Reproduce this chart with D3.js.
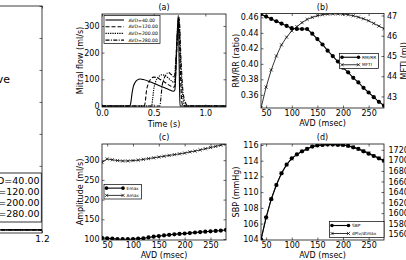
<!DOCTYPE html>
<html>
<head>
<meta charset="utf-8">
<script src="https://cdn.jsdelivr.net/npm/d3@7/dist/d3.min.js"></script>
<style>
body { margin: 0; background: #fff; }
svg { display: block; font-family: "DejaVu Sans", sans-serif; }
</style>
</head>
<body>
<script>
var width = 406, height = 260;
var svg = d3.select("body").append("svg").attr("width", width).attr("height", height);

/** data **/
var avd = [40, 50, 60, 70, 80, 90, 100, 110, 120, 130, 140, 150, 160, 170, 180, 190, 200, 210, 220, 230, 240, 250, 260, 270, 280];

var rmrr = [0.464, 0.461, 0.458, 0.455, 0.452, 0.449, 0.446, 0.445, 0.445, 0.445, 0.439, 0.432, 0.425,
            0.417, 0.410, 0.403, 0.395, 0.389, 0.382, 0.376, 0.369, 0.363, 0.357, 0.351, 0.346];
var mfti = [42.43, 43.46, 44.31, 45.0, 45.55, 45.93, 46.24, 46.45, 46.65, 46.81, 46.91, 46.99, 47.04,
            47.07, 47.08, 47.08, 47.07, 47.04, 46.99, 46.92, 46.84, 46.74, 46.61, 46.48, 46.35];

var emax = [103, 102, 101, 100, 99.5, 99.5, 100, 101, 102, 104, 106, 107.5, 109,
            110.5, 112, 113, 114, 115, 116.5, 117.5, 118.5, 119.5, 120.5, 121.5, 123];
var amax = [294, 303, 301, 299, 298, 298, 299, 300, 302, 304, 306, 308, 310,
            312, 314, 316, 318, 321, 323, 326, 329, 332, 335, 338, 341];

var sbp = [104.0, 106.8, 109.1, 110.9, 112.4, 113.5, 114.3, 114.8, 115.2, 115.5, 115.8, 115.95, 116.0,
           116.05, 116.05, 116.0, 116.0, 115.9, 115.7, 115.5, 115.2, 114.9, 114.6, 114.3, 114.0];
var dpdt = [1549, 1591, 1627, 1654, 1676, 1692, 1703, 1711, 1717, 1722, 1726, 1728, 1729,
            1730, 1730, 1730, 1729, 1727, 1725, 1722, 1718, 1714, 1709, 1704, 1699];

// mitral flow traces, [time (s), flow (ml/s)]
var flow40 = [[0, 0], [0.27, 0], [0.28, 15], [0.29, 45], [0.30, 68], [0.32, 88], [0.34, 97], [0.37, 101],
              [0.40, 99], [0.45, 93], [0.50, 85], [0.55, 77], [0.60, 69], [0.65, 61], [0.69, 55],
              [0.705, 60], [0.715, 130], [0.725, 240], [0.738, 340], [0.745, 200], [0.75, 80], [0.755, 0], [1.2, 0]];
var flow120 = [[0, 0], [0.41, 0], [0.42, 20], [0.43, 55], [0.45, 85], [0.47, 100], [0.50, 108], [0.53, 106],
               [0.57, 98], [0.61, 88], [0.65, 78], [0.69, 70], [0.705, 75], [0.715, 140], [0.73, 260],
               [0.742, 335], [0.755, 180], [0.765, 60], [0.775, 10], [0.785, 0], [1.2, 0]];
var flow200 = [[0, 0], [0.48, 0], [0.49, 25], [0.50, 60], [0.52, 92], [0.55, 110], [0.58, 117], [0.61, 114],
               [0.64, 105], [0.67, 95], [0.70, 88], [0.715, 160], [0.73, 270], [0.745, 330], [0.76, 180],
               [0.775, 60], [0.79, 15], [0.80, 0], [1.2, 0]];
var flow280 = [[0, 0], [0.56, 0], [0.57, 30], [0.58, 70], [0.60, 102], [0.62, 118], [0.645, 125], [0.67, 118],
               [0.70, 108], [0.715, 180], [0.73, 280], [0.747, 325], [0.765, 170], [0.785, 50], [0.81, 10],
               [0.83, 0], [1.2, 0]];

var flowSeries = [flow40, flow120, flow200, flow280];
var flowLabels = ["AVD=40.00", "AVD=120.00", "AVD=200.00", "AVD=280.00"];
var flowDash = [null, "4,2", "1.3,1", "4,1.4,1,1.4"];

var timeTicks = [0.0, 0.5, 1.0];
var flowTicks = [0, 100, 200, 300];
var avdTicks = [50, 100, 150, 200, 250];
var rmrrTicks = [0.36, 0.38, 0.40, 0.42, 0.44, 0.46];
var mftiTicks = [43, 44, 45, 46, 47];
var ampTicks = [100, 150, 200, 250, 300];
var sbpTicks = [104, 106, 108, 110, 112, 114, 116];
var dpdtTicks = [1560, 1580, 1600, 1620, 1640, 1660, 1680, 1700, 1720];

/** helpers **/
var clipId = 0;
function panel(x0, x1, y0, y1) {
    var g = svg.append("g");
    var id = "clip" + (clipId++);
    g.append("clipPath").attr("id", id).append("rect")
        .attr("x", x0).attr("y", y0).attr("width", x1 - x0).attr("height", y1 - y0);
    g.plot = g.append("g").attr("clip-path", "url(#" + id + ")");
    g.box = [x0, x1, y0, y1];
    return g;
}

function styleAxis(a, fs) {
    a.attr("font-family", "DejaVu Sans, sans-serif").attr("font-size", fs || 8);
    a.select(".domain").remove();
    a.selectAll(".tick line").attr("stroke", "#000").attr("stroke-width", 0.6);
    a.selectAll("text").attr("fill", "#000");
}

function axes(g, x, y, xt, yt, opt) {
    opt = opt || {};
    var b = g.box, fs = opt.fs || 8;
    var xf = opt.xfmt || (d => d);
    var yf = opt.yfmt || (d => d);
    styleAxis(g.append("g").attr("transform", "translate(0," + b[3] + ")")
        .call(d3.axisBottom(x).tickValues(xt).tickSizeInner(-2.5).tickSizeOuter(0).tickPadding(opt.xpad || 2.5).tickFormat(xf)), fs);
    styleAxis(g.append("g").attr("transform", "translate(0," + b[2] + ")")
        .call(d3.axisTop(x).tickValues(xt).tickSizeInner(-2.5).tickSizeOuter(0).tickFormat("")), fs);
    styleAxis(g.append("g").attr("transform", "translate(" + b[0] + ",0)")
        .call(d3.axisLeft(y).tickValues(yt).tickSizeInner(-2.5).tickSizeOuter(0).tickPadding(2.5).tickFormat(yf)), fs);
    if (!opt.twin) {
        styleAxis(g.append("g").attr("transform", "translate(" + b[1] + ",0)")
            .call(d3.axisRight(y).tickValues(yt).tickSizeInner(-2.5).tickSizeOuter(0).tickFormat("")), fs);
    }
    g.append("rect").attr("x", b[0]).attr("y", b[2])
        .attr("width", b[1] - b[0]).attr("height", b[3] - b[2])
        .attr("fill", "none").attr("stroke", "#111").attr("stroke-width", 0.8);
}

function twinAxis(g, y2, yt, pad) {
    var b = g.box;
    styleAxis(g.append("g").attr("transform", "translate(" + b[1] + ",0)")
        .call(d3.axisRight(y2).tickValues(yt).tickSizeInner(-2.5).tickSizeOuter(0).tickPadding(pad).tickFormat(d => d)));
}

function title(g, t) {
    var b = g.box;
    g.append("text").attr("x", (b[0] + b[1]) / 2).attr("y", b[2] - 4)
        .attr("text-anchor", "middle").attr("font-size", 8).text(t);
}

function xlabel(g, t, yy) {
    var b = g.box;
    g.append("text").attr("x", (b[0] + b[1]) / 2).attr("y", yy)
        .attr("text-anchor", "middle").attr("font-size", 8).text(t);
}

function ylabel(g, t, xx) {
    var b = g.box;
    g.append("text").attr("transform", "translate(" + xx + "," + (b[2] + b[3]) / 2 + ") rotate(-90)")
        .attr("text-anchor", "middle").attr("dy", "0.35em").attr("font-size", 8).text(t);
}

function marker(sel, type, r) {
    if (type == "o") {
        sel.append("circle").attr("r", r).attr("fill", "#000");
    } else {
        sel.append("path").attr("d", "M" + -r + "," + -r + "L" + r + "," + r + "M" + -r + "," + r + "L" + r + "," + -r)
            .attr("stroke", "#000").attr("stroke-width", 0.7).attr("fill", "none");
    }
}

function series(g, x, y, xs, ys, type, r) {
    var pts = xs.map((d, i) => [x(d), y(ys[i])]);
    g.plot.append("path").attr("d", d3.line()(pts))
        .attr("fill", "none").attr("stroke", "#000").attr("stroke-width", type == "o" ? 1.1 : 0.8);
    g.plot.selectAll(null).data(pts).enter().append("g")
        .attr("transform", d => "translate(" + d + ")")
        .each(function () { marker(d3.select(this), type, r); });
}

function markerLegend(g, bx, by, bw, bh, items) {
    g.append("rect").attr("x", bx).attr("y", by).attr("width", bw).attr("height", bh)
        .attr("fill", "#fff").attr("stroke", "#000").attr("stroke-width", 0.7);
    items.forEach((it, i) => {
        var yy = by + bh * (i + 0.5) / items.length;
        g.append("line").attr("x1", bx + 2.5).attr("x2", bx + 19).attr("y1", yy).attr("y2", yy)
            .attr("stroke", "#000").attr("stroke-width", it.type == "o" ? 1.1 : 0.8);
        [bx + 2.5, bx + 19].forEach(px => {
            marker(g.append("g").attr("transform", "translate(" + px + "," + yy + ")"), it.type, it.type == "o" ? 1.8 : 1.6);
        });
        g.append("text").attr("x", bx + 22.5).attr("y", yy).attr("dy", "0.35em")
            .attr("font-size", 4.3).text(it.label);
    });
}

/** left (cropped) panel **/
{
    var p = panel(-260, 42, 6, 233);
    var x = d3.scaleLinear().domain([0, 1.2]).range([-260, 42]);
    var y = d3.scaleLinear().domain([-5, 350]).range([233, 6]);
    flowSeries.forEach((s, i) => {
        p.plot.append("path").attr("d", d3.line().x(d => x(d[0])).y(d => y(d[1])).curve(d3.curveMonotoneX)(s))
            .attr("fill", "none").attr("stroke", "#000").attr("stroke-width", 1.3)
            .attr("stroke-dasharray", flowDash[i]);
    });
    // its left-hand tick labels sit outside the crop, so only the marks are kept
    axes(p, x, y, [1.2], [0, 50, 100, 150, 200, 250, 300, 350], { fs: 9, xfmt: d3.format(".1f"), yfmt: () => "" });
    p.append("text").attr("x", 10).attr("y", 83).attr("text-anchor", "end").attr("font-size", 11).text("E wave");
    p.append("rect").attr("x", -100).attr("y", 173).attr("width", 141.3).attr("height", 49)
        .attr("fill", "#fff").attr("stroke", "#000").attr("stroke-width", 0.8);
    flowLabels.forEach((t, i) => {
        var yy = 181 + i * 11;
        p.append("line").attr("x1", -96).attr("x2", -50).attr("y1", yy).attr("y2", yy)
            .attr("stroke", "#000").attr("stroke-width", 1.3).attr("stroke-dasharray", flowDash[i]);
        p.append("text").attr("x", 39.5).attr("y", yy).attr("dy", "0.35em").attr("text-anchor", "end")
            .attr("font-size", 9.5).text(t);
    });
}

/** (a) mitral flow **/
{
    var p = panel(102, 226, 14, 107);
    var x = d3.scaleLinear().domain([0, 1.2]).range([102, 226]);
    var y = d3.scaleLinear().domain([-4, 345]).range([107, 14]);
    flowSeries.forEach((s, i) => {
        p.plot.append("path").attr("d", d3.line().x(d => x(d[0])).y(d => y(d[1])).curve(d3.curveMonotoneX)(s))
            .attr("fill", "none").attr("stroke", "#000").attr("stroke-width", 1.1)
            .attr("stroke-dasharray", flowDash[i]);
    });
    axes(p, x, y, timeTicks, flowTicks, { xfmt: d3.format(".1f"), xpad: 3.5 });
    title(p, "(a)");
    xlabel(p, "Time (s)", 126.5);
    ylabel(p, "Mitral flow (ml/s)", 80);
    p.append("rect").attr("x", 104).attr("y", 15.5).attr("width", 56).attr("height", 28)
        .attr("fill", "#fff").attr("stroke", "#000").attr("stroke-width", 0.7);
    flowLabels.forEach((t, i) => {
        var yy = 20 + i * 6.7;
        p.append("line").attr("x1", 105.5).attr("x2", 124).attr("y1", yy).attr("y2", yy)
            .attr("stroke", "#000").attr("stroke-width", 1.1).attr("stroke-dasharray", flowDash[i]);
        p.append("text").attr("x", 128.5).attr("y", yy).attr("dy", "0.35em").attr("font-size", 4.6).text(t);
    });
}

/** (b) RM/RR and MFTI **/
{
    var p = panel(261, 384, 13.5, 108);
    var x = d3.scaleLinear().domain([40, 280]).range([261, 384]);
    var y = d3.scaleLinear().domain([0.343, 0.465]).range([108, 13.5]);
    var y2 = d3.scaleLinear().domain([42.43, 47.1]).range([108, 13.5]);
    series(p, x, y2, avd, mfti, "x", 1.6);
    series(p, x, y, avd, rmrr, "o", 2.1);
    axes(p, x, y, avdTicks, rmrrTicks, { twin: true, yfmt: d3.format(".2f") });
    twinAxis(p, y2, mftiTicks, 3);
    title(p, "(b)");
    xlabel(p, "AVD (msec)", 126);
    ylabel(p, "RM/RR (ratio)", 236);
    ylabel(p, "MFTI (ml)", 404);
    markerLegend(p, 339.5, 53.5, 39, 15, [{ label: "RM/RR", type: "o" }, { label: "MFTI", type: "x" }]);
}

/** (c) Emax and Amax **/
{
    var p = panel(102, 226, 144, 240);
    var x = d3.scaleLinear().domain([40, 280]).range([102, 226]);
    var y = d3.scaleLinear().domain([97.5, 341]).range([240, 144]);
    series(p, x, y, avd, amax, "x", 1.6);
    series(p, x, y, avd, emax, "o", 2.1);
    axes(p, x, y, avdTicks, ampTicks);
    title(p, "(c)");
    xlabel(p, "AVD (msec)", 258);
    ylabel(p, "Amplitude (ml/s)", 80);
    markerLegend(p, 104, 184.5, 37.5, 14.5, [{ label: "Emax", type: "o" }, { label: "Amax", type: "x" }]);
}

/** (d) SBP and dPlv/dtmax **/
{
    var p = panel(261, 384, 144, 240);
    var x = d3.scaleLinear().domain([40, 280]).range([261, 384]);
    var y = d3.scaleLinear().domain([104, 116]).range([239.3, 145]);
    var y2 = d3.scaleLinear().domain([1549, 1731]).range([240, 144]);
    series(p, x, y2, avd, dpdt, "x", 1.6);
    series(p, x, y, avd, sbp, "o", 2.1);
    axes(p, x, y, avdTicks, sbpTicks, { twin: true });
    twinAxis(p, y2, dpdtTicks, 4.5);
    title(p, "(d)");
    xlabel(p, "AVD (msec)", 258);
    ylabel(p, "SBP (mmHg)", 236);
    markerLegend(p, 329.5, 221.5, 54.5, 16, [{ label: "SBP", type: "o" }, { label: "dPlv/dtmax", type: "x" }]);
}
</script>
</body>
</html>
